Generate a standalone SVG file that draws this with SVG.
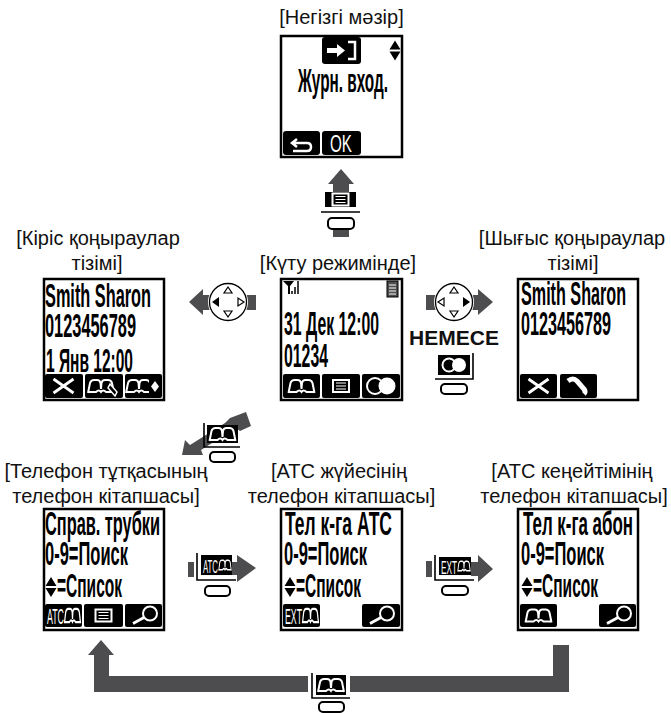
<svg xmlns="http://www.w3.org/2000/svg" width="671" height="713" viewBox="0 0 671 713">
<style>
.lbl{font-family:"Liberation Sans",Arial,sans-serif;font-size:20px;fill:#111;text-anchor:middle}
.scr{font-family:"Liberation Sans",Arial,sans-serif;font-size:34px;font-weight:700;fill:#000}
.frame{fill:#fff;stroke:#000;stroke-width:2.5}
.key{fill:#000}
.w{fill:none;stroke:#fff;stroke-width:2}
.wf{fill:#fff}
.gray{fill:#4d4d4f}
.ln{fill:none;stroke:#000;stroke-width:1.6}
.btn{fill:#fff;stroke:#000;stroke-width:2}
.kt{font-family:"Liberation Sans",Arial,sans-serif;fill:#fff}
.pad{fill:#fff;stroke:#000;stroke-width:1.3}
.tri{fill:#fff;stroke:#000;stroke-width:1.2}
</style>
<defs>
<symbol id="book" overflow="visible"><path class="w" d="M-13 7L-11 -3Q-10 -6 -7 -6H-4Q-1 -6 -.5 -3L0 3L.5 -3Q1 -6 4 -6H7Q10 -6 11 -3L13 7M-13 6H-5Q-2 3 0 6Q2 3 5 6H13"/></symbol>
<symbol id="menu" overflow="visible"><rect class="w" x="-8" y="-6" width="16" height="12"/><path class="w" style="stroke-width:1.200" d="M-5 -3H5M-5 0H5M-5 3H5"/></symbol>
<symbol id="search" overflow="visible"><circle class="w" cx="4" cy="-2" r="7"/><path class="w" style="stroke-width:2.800" d="M-2 2L-13 8"/></symbol>
<symbol id="cross" overflow="visible"><path class="w" style="stroke-width:2.800" d="M-10 -7L10 7M10 -7L-10 7"/></symbol>
<symbol id="rings" overflow="visible"><circle cx="-6" cy="0" r="8" class="w"/><circle cx="6" cy="0" r="8.500" class="wf"/></symbol>
<symbol id="updown" overflow="visible"><path d="M0 -10L5.500 -1H-5.500ZM0 10L5.500 1H-5.500Z" fill="#000"/></symbol>
<symbol id="softpad" overflow="visible"><circle r="20" fill="#fff"/><circle class="pad" r="18.500"/><path class="tri" d="M0 -15L4 -9H-4ZM0 15L4 9H-4Z"/></symbol>
</defs>

<g id="connectors">
<path class="gray" d="M341 169L354 184H349V192H333V184H328Z"/>
<rect class="gray" x="333" y="228" width="16" height="9"/>
<path class="gray" d="M189 302L203 289V295H256V310H203V315Z"/>
<path class="gray" d="M493 302L478 289V295H426V310H478V315Z"/>
<path class="gray" d="M230 418L246 412L251 426L240 431L236 428L201 450L203 455H182L185 440L190 445L225 423Z"/>
<path class="gray" d="M188 562H194V577H188ZM232 562H237V555L256 568L237 582V575H232Z"/>
<path class="gray" d="M426 561H432V577H426ZM471 562H478V555L493 569L478 582V576H471Z"/>
<path class="gray" d="M101 640L114 655H109V676H308V692H94V655H88ZM350 676H553V645H569V692H350Z"/>
</g>

<g id="node-main-menu">
<text class="lbl" x="341.500" y="24">[Негізгі мәзір]</text>
<rect class="frame" x="281" y="36" width="121" height="121"/>
<rect class="key" x="322" y="37" width="39" height="27" rx="3"/>
<path class="wf" d="M327 48H337V44L345 50.500L337 57V53H327Z"/>
<path class="w" style="stroke-width:2.500" d="M348 42H355V59H348"/>
<use href="#updown" x="395" y="50.500"/>
<text class="scr" transform="translate(298 92) scale(.5 1)" textLength="180" lengthAdjust="spacingAndGlyphs">Журн. вход.</text>
<rect class="key" x="283" y="131" width="37" height="24" rx="3"/>
<rect class="key" x="322" y="131" width="39" height="24" rx="3"/>
<path class="w" style="stroke-width:2.500" d="M292 143H307Q311 143 311 147T307 151H293M297 139L292 143L297 147"/>
<text class="kt" x="330" y="152" textLength="22" lengthAdjust="spacingAndGlyphs" style="font-size:24px">OK</text>
</g>
<g id="key-menu">
<rect class="key" x="325" y="192" width="31" height="15"/>
<use href="#menu" x="340.500" y="199.500"/>
<path class="ln" d="M321 212H360"/>
<rect class="btn" x="328" y="218" width="26" height="11" rx="4"/>
</g>

<g id="node-incoming">
<text class="lbl" x="98" y="245">[Кіріс қоңыраулар</text>
<text class="lbl" x="97" y="270">тізімі]</text>
<rect class="frame" x="44" y="279" width="120" height="121"/>
<text class="scr" transform="translate(45 307) scale(.5 1)" textLength="212" lengthAdjust="spacingAndGlyphs">Smith Sharon</text>
<text class="scr" transform="translate(45 337) scale(.5 1)" textLength="182" lengthAdjust="spacingAndGlyphs">0123456789</text>
<text class="scr" transform="translate(46 372) scale(.5 1)" textLength="174" lengthAdjust="spacingAndGlyphs">1 Янв 12:00</text>
<rect class="key" x="45" y="374" width="38" height="24" rx="2"/>
<rect class="key" x="85" y="374" width="38" height="24" rx="2"/>
<rect class="key" x="125" y="374" width="37" height="24" rx="2"/>
<use href="#cross" x="63.500" y="386"/>
<use href="#book" x="101" y="386"/>
<path fill="#000" stroke="#fff" stroke-width="1.500" d="M110 384L117 392L115 396L108 388Z"/>
<use href="#book" x="139" y="386"/>
<path fill="#000" d="M149 380H162V394H149Z"/>
<path class="wf" d="M151 386.500L155 381L159 386.500L155 392Z"/>
</g>
<g id="key-nav-left">
<use href="#softpad" x="228" y="302"/>
<path d="M212 302L219 297V307Z" fill="#000"/>
<path class="tri" d="M244 302L238 298V306Z"/>
</g>

<g id="node-standby">
<text class="lbl" x="338" y="270">[Күту режимінде]</text>
<rect class="frame" x="281" y="279" width="121" height="121"/>
<path d="M283 281H294L290 286V294H288V286Z" fill="#000"/>
<path d="M292 294V291M295 294V287M298 294V281" stroke="#000" stroke-width="1.500"/>
<rect x="387" y="281" width="11" height="16" fill="#4d4d4f" stroke="#000" stroke-width="1"/>
<path d="M389 285H396M389 288H396M389 291H396M389 294H396" stroke="#fff" stroke-width="1"/>
<text class="scr" transform="translate(284 335) scale(.5 1)" textLength="190" lengthAdjust="spacingAndGlyphs">31 Дек 12:00</text>
<text class="scr" transform="translate(284 367) scale(.5 1)" textLength="88" lengthAdjust="spacingAndGlyphs">01234</text>
<rect class="key" x="283" y="374" width="37" height="24" rx="2"/>
<rect class="key" x="322" y="374" width="38" height="24" rx="2"/>
<rect class="key" x="362" y="374" width="38" height="24" rx="2"/>
<use href="#book" x="301.500" y="386"/>
<use href="#menu" x="341" y="386"/>
<use href="#rings" x="381" y="386"/>
</g>
<g id="key-nav-right">
<use href="#softpad" x="454" y="302"/>
<path d="M470 302L463 297V307Z" fill="#000"/>
<path class="tri" d="M438 302L444 298V306Z"/>
<text x="454" y="345" font-family="'Liberation Sans',Arial,sans-serif" font-size="21" font-weight="700" fill="#111" text-anchor="middle">НЕМЕСЕ</text>
<rect class="key" x="438" y="355" width="32" height="20"/>
<circle cx="449" cy="365" r="6.500" class="w"/>
<circle cx="459" cy="365" r="7" class="wf"/>
<path class="ln" d="M473 353V379H435"/>
<rect class="btn" x="441" y="384" width="26" height="10" rx="4"/>
</g>

<g id="node-outgoing">
<text class="lbl" x="572" y="245">[Шығыс қоңыраулар</text>
<text class="lbl" x="573" y="270">тізімі]</text>
<rect class="frame" x="518" y="279" width="120" height="121"/>
<text class="scr" transform="translate(521 305) scale(.5 1)" textLength="210" lengthAdjust="spacingAndGlyphs">Smith Sharon</text>
<text class="scr" transform="translate(521 335) scale(.5 1)" textLength="180" lengthAdjust="spacingAndGlyphs">0123456789</text>
<rect class="key" x="520" y="374" width="37" height="24" rx="2"/>
<rect class="key" x="560" y="374" width="37" height="24" rx="2"/>
<use href="#cross" x="538.500" y="386"/>
<path class="w" style="stroke-width:5" d="M568 381Q573 377 577 381L584 389Q586 392 584 394"/>
</g>

<g id="key-phonebook-top">
<rect class="key" x="207" y="425" width="31" height="18"/>
<use href="#book" x="222.500" y="434"/>
<path class="ln" d="M204 423V447H240"/>
<rect class="btn" x="210" y="452" width="25" height="10" rx="4"/>
</g>

<g id="node-handset-book">
<text class="lbl" x="106" y="478">[Телефон тұтқасының</text>
<text class="lbl" x="106" y="503">телефон кітапшасы]</text>
<rect class="frame" x="44" y="509" width="120" height="121"/>
<text class="scr" transform="translate(45 535) scale(.5 1)" textLength="230" lengthAdjust="spacingAndGlyphs">Справ. трубки</text>
<text class="scr" transform="translate(45 565) scale(.5 1)" textLength="166" lengthAdjust="spacingAndGlyphs">0-9=Поиск</text>
<use href="#updown" x="51" y="587"/>
<text class="scr" transform="translate(57 597) scale(.5 1)" textLength="130" lengthAdjust="spacingAndGlyphs">=Список</text>
<rect class="key" x="45" y="604" width="37" height="23" rx="2"/>
<rect class="key" x="84" y="604" width="39" height="23" rx="2"/>
<rect class="key" x="125" y="604" width="37" height="23" rx="2"/>
<text class="kt" x="47" y="624" textLength="17" lengthAdjust="spacingAndGlyphs" style="font-size:22px">АТС</text>
<g transform="translate(72.500 615.500) scale(.62 1.100)"><use href="#book"/></g>
<use href="#menu" x="103.500" y="615.500"/>
<use href="#search" x="146" y="615.500"/>
</g>
<g id="key-pbx">
<rect class="key" x="201" y="555" width="31" height="20"/>
<text class="kt" x="203" y="573" textLength="15" lengthAdjust="spacingAndGlyphs" style="font-size:18px">АТС</text>
<g transform="translate(225 565) scale(.48 .8)"><use href="#book"/></g>
<path class="ln" d="M197 553V580H236"/>
<rect class="btn" x="205" y="586" width="25" height="10" rx="4"/>
</g>

<g id="node-pbx-book">
<text class="lbl" x="339" y="478">[АТС жүйесінің</text>
<text class="lbl" x="341.500" y="503">телефон кітапшасы]</text>
<rect class="frame" x="281" y="509" width="121" height="121"/>
<text class="scr" transform="translate(285 535) scale(.5 1)" textLength="214" lengthAdjust="spacingAndGlyphs">Тел к-га АТС</text>
<text class="scr" transform="translate(284 565) scale(.5 1)" textLength="166" lengthAdjust="spacingAndGlyphs">0-9=Поиск</text>
<use href="#updown" x="290" y="587"/>
<text class="scr" transform="translate(296 597) scale(.5 1)" textLength="130" lengthAdjust="spacingAndGlyphs">=Список</text>
<rect class="key" x="283" y="604" width="37" height="23" rx="2"/>
<rect class="key" x="362" y="604" width="38" height="23" rx="2"/>
<text class="kt" x="285" y="624" textLength="17" lengthAdjust="spacingAndGlyphs" style="font-size:22px">EXT</text>
<g transform="translate(310.500 615.500) scale(.62 1.100)"><use href="#book"/></g>
<use href="#search" x="383" y="615.500"/>
</g>
<g id="key-ext">
<rect class="key" x="439" y="557" width="32" height="18"/>
<text class="kt" x="441" y="574" textLength="16" lengthAdjust="spacingAndGlyphs" style="font-size:18px">EXT</text>
<g transform="translate(464 566) scale(.48 .8)"><use href="#book"/></g>
<path class="ln" d="M435 555V580H474"/>
<rect class="btn" x="442" y="586" width="26" height="9" rx="4"/>
</g>

<g id="node-ext-book">
<text class="lbl" x="572" y="478">[АТС кеңейтімінің</text>
<text class="lbl" x="574" y="503">телефон кітапшасы]</text>
<rect class="frame" x="518" y="509" width="120" height="121"/>
<text class="scr" transform="translate(523 535) scale(.5 1)" textLength="220" lengthAdjust="spacingAndGlyphs">Тел к-га абон</text>
<text class="scr" transform="translate(521 565) scale(.5 1)" textLength="166" lengthAdjust="spacingAndGlyphs">0-9=Поиск</text>
<use href="#updown" x="527" y="587"/>
<text class="scr" transform="translate(533 597) scale(.5 1)" textLength="130" lengthAdjust="spacingAndGlyphs">=Список</text>
<rect class="key" x="520" y="604" width="37" height="23" rx="2"/>
<rect class="key" x="599" y="604" width="37" height="23" rx="2"/>
<use href="#book" x="538.500" y="615.500"/>
<use href="#search" x="620" y="615.500"/>
</g>
<g id="key-phonebook-bottom">
<rect class="key" x="316" y="675" width="30" height="20"/>
<use href="#book" x="331" y="685"/>
<path class="ln" d="M312 673V698H350"/>
<rect class="btn" x="319" y="702" width="25" height="10" rx="4"/>
</g>
</svg>
